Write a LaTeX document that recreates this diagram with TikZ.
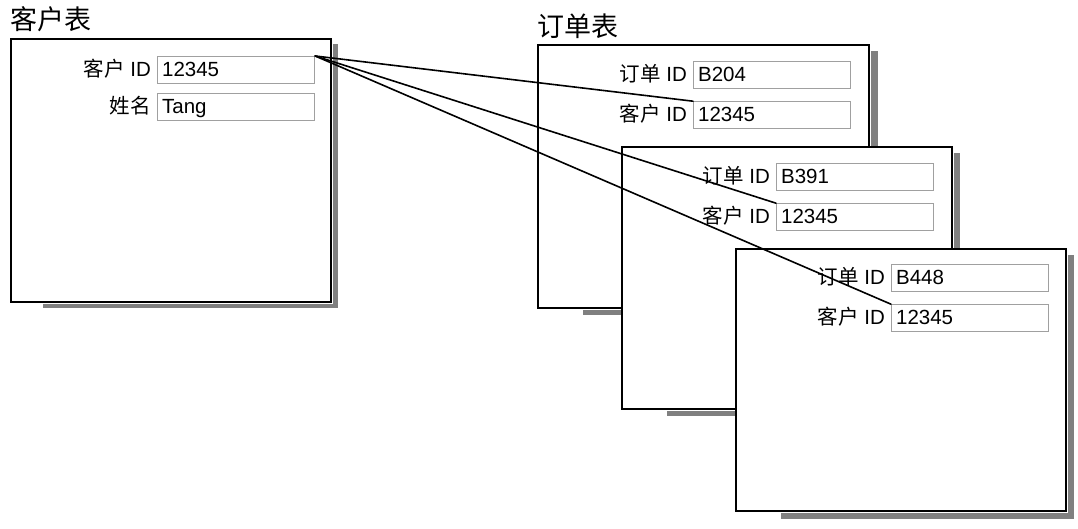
\documentclass[tikz,border=0pt]{standalone}
\usepackage{fontspec}
\setmainfont{Liberation Sans}
\newfontfamily\cjk{Noto Sans CJK SC}
\usetikzlibrary{positioning}

\definecolor{fieldgray}{RGB}{160,160,160}
\definecolor{shadowgray}{RGB}{128,128,128}

\begin{document}
\begin{tikzpicture}[x=1pt, y=-1pt,
  tbl/.style={draw, line width=1.8pt, fill=white, anchor=north west, inner sep=0pt,
    minimum width=330pt, minimum height=262pt},
  field/.style={draw=fieldgray, line width=1.2pt, fill=white, minimum width=157pt,
    minimum height=27pt, text width=148pt, inner xsep=4.5pt, inner ysep=0pt, align=left,
    text height=15pt, text depth=2pt, font=\fontsize{20.5}{22}\selectfont},
  lbl/.style={inner sep=0pt, text height=15pt, text depth=2pt, font=\fontsize{20.5}{22}\selectfont},
  ttl/.style={inner sep=0pt, anchor=base west, font=\cjk\fontsize{27}{30}\selectfont},
  shade/.style={fill=shadowgray},
  link/.style={line width=1.6pt, line cap=round}]

\useasboundingbox (0,0) rectangle (1078,529);

%-----------------------
% 客户表
%-----------------------
\node[tbl, minimum width=320pt, minimum height=263pt] (cust) at (10,38) {};
\fill[shade] ([xshift=0.9pt,yshift=-6pt]cust.north east) rectangle ([xshift=6.5pt,yshift=-5.5pt]cust.south east);
\fill[shade] ([xshift=33pt,yshift=-0.9pt]cust.south west) rectangle ([xshift=6.5pt,yshift=-5.5pt]cust.south east);
\node[ttl] (custT) at ([yshift=8pt]cust.north west) {客户表};

\node[field, below right=18pt and 147pt of cust.north west] (cid) {12345};
\node[field, below=9pt of cid] (cname) {Tang};
\node[lbl, left=6pt of cid] (cidL) {{\cjk 客户} ID};
\node[lbl, left=6pt of cname] (cnameL) {{\cjk 姓名}};

%-----------------------
% 订单表（三张叠放）
%-----------------------
\node[tbl, minimum width=331pt, minimum height=263pt] (ordA) at (537,44) {};
\fill[shade] ([xshift=0.9pt,yshift=-7pt]ordA.north east) rectangle ([xshift=8pt,yshift=-6.5pt]ordA.south east);
\fill[shade] ([xshift=46pt,yshift=-0.9pt]ordA.south west) rectangle ([xshift=8pt,yshift=-6.5pt]ordA.south east);
\node[ttl] (ordT) at ([yshift=7pt]ordA.north west) {订单表};

\node[field, below right=17pt and 156pt of ordA.north west] (aid) {B204};
\node[field, below=12pt of aid] (acid) {12345};
\node[lbl, left=6pt of aid] (aidL) {{\cjk 订单} ID};
\node[lbl, left=6pt of acid] (acidL) {{\cjk 客户} ID};

\node[tbl] (ordB) at (621,146) {};
\fill[shade] ([xshift=0.9pt,yshift=-7pt]ordB.north east) rectangle ([xshift=7.5pt,yshift=-6.5pt]ordB.south east);
\fill[shade] ([xshift=46pt,yshift=-0.9pt]ordB.south west) rectangle ([xshift=7.5pt,yshift=-6.5pt]ordB.south east);

\node[field, below right=17pt and 155pt of ordB.north west] (bid) {B391};
\node[field, below=12pt of bid] (bcid) {12345};
\node[lbl, left=6pt of bid] (bidL) {{\cjk 订单} ID};
\node[lbl, left=6pt of bcid] (bcidL) {{\cjk 客户} ID};

\node[tbl] (ordC) at (735,248) {};
\fill[shade] ([xshift=0.9pt,yshift=-7pt]ordC.north east) rectangle ([xshift=7.5pt,yshift=-7pt]ordC.south east);
\fill[shade] ([xshift=46pt,yshift=-0.9pt]ordC.south west) rectangle ([xshift=7.5pt,yshift=-7pt]ordC.south east);

\node[field, below right=16pt and 156pt of ordC.north west] (cid3) {B448};
\node[field, below=12pt of cid3] (ccid) {12345};
\node[lbl, left=6pt of cid3] (cid3L) {{\cjk 订单} ID};
\node[lbl, left=6pt of ccid] (ccidL) {{\cjk 客户} ID};

%-----------------------
% 连线：客户 ID -> 各订单的客户 ID
%-----------------------
\draw[link] (cid.north east) -- (acid.north west);
\draw[link] (cid.north east) -- (bcid.north west);
\draw[link] (cid.north east) -- (ccid.north west);

\end{tikzpicture}
\end{document}
